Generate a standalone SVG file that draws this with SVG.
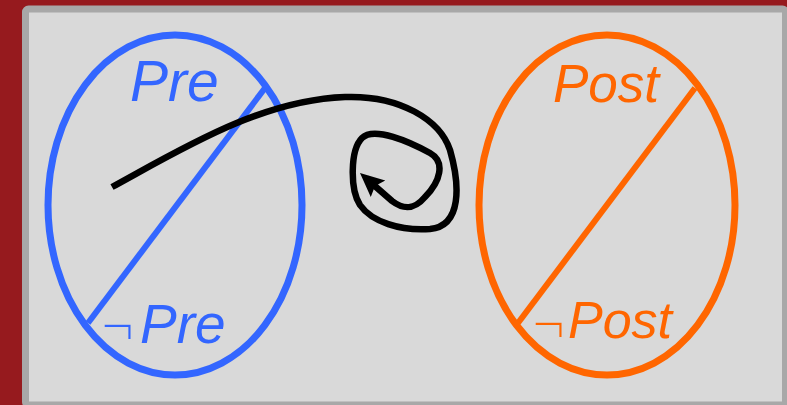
<svg xmlns="http://www.w3.org/2000/svg" width="787" height="405" viewBox="0 0 787 405">
<defs>
<style>
.lbl{font-family:"Liberation Sans",Arial,sans-serif;font-style:italic}
.neg{font-family:"Liberation Sans",Arial,sans-serif;font-size:57px;font-weight:normal;stroke:#D9D9D9;stroke-width:1.8;paint-order:fill}
.blue{fill:#3366FF}
.orange{fill:#FF6600}
.set{fill:none;stroke-width:7}
</style>
<marker id="ah" markerUnits="userSpaceOnUse" markerWidth="26" markerHeight="24" viewBox="0 0 26 24" refX="16" refY="12" orient="auto">
<path d="M0,1 L24,12 L0,23 L4,12 z" fill="#000"/>
</marker>
</defs>
<rect x="0" y="0" width="787" height="405" fill="#961A1E"/>
<rect x="25.5" y="9" width="760" height="396" rx="3" fill="#D9D9D9" stroke="#A8A8A8" stroke-width="7"/>
<g id="pre">
<ellipse class="set" cx="175" cy="205" rx="127" ry="170" stroke="#3366FF"/>
<line x1="265" y1="88" x2="88" y2="323" stroke="#3366FF" stroke-width="6"/>
<text class="lbl blue" x="130" y="101" font-size="57">Pre</text>
<text class="neg blue" x="101" y="345">¬</text>
<text class="lbl blue" x="140" y="343" font-size="55">Pre</text>
</g>
<g id="post">
<ellipse class="set" cx="607" cy="205" rx="128" ry="170" stroke="#FF6600"/>
<line x1="695" y1="88" x2="518" y2="323" stroke="#FF6600" stroke-width="6"/>
<text class="lbl orange" x="553" y="102" font-size="53">Post</text>
<text class="neg orange" x="532" y="343">¬</text>
<text class="lbl orange" x="568" y="338" font-size="52">Post</text>
</g>
<g id="connectors">
<path d="M112 187 C180 150 260 100 345 97 C400 95 440 120 450 150 C460 185 462 226 430 229 C400 231 372 222 360 205 C350 190 350 150 362 138 C374 126 410 142 430 153 C446 162 440 182 425 197 C414 210 404 210 392 201 L366 178.2" fill="none" stroke="#000" stroke-width="6.5" marker-end="url(#ah)"/>
</g>
</svg>
